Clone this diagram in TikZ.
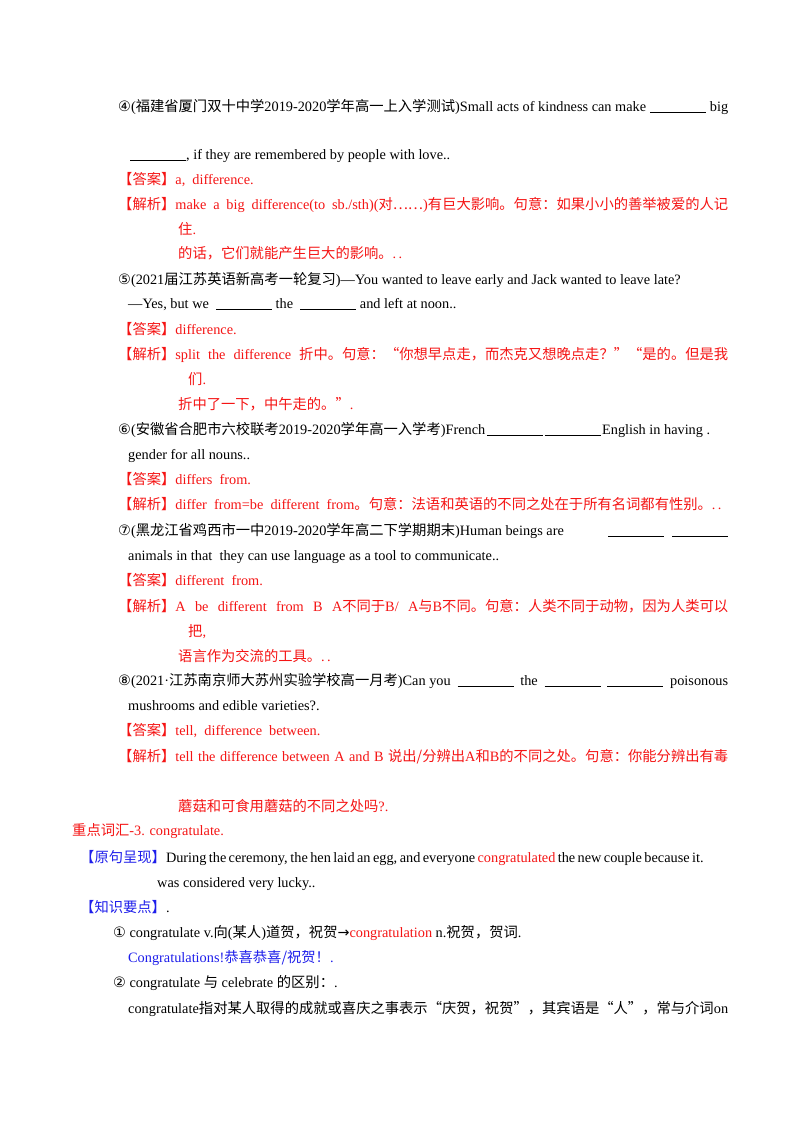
\documentclass[tikz,border=0pt]{standalone}
\usepackage{fontspec}
\setmainfont{Liberation Serif}
\newfontfamily\cjk{Noto Sans CJK SC}
\newfontfamily\sym{DejaVu Sans}
\newcommand\Cj[1]{{\cjk #1}}
\newcommand\Sy[1]{{\sym #1}}
\definecolor{ansred}{RGB}{245,20,20}
\definecolor{kblue}{RGB}{30,30,235}
\tikzset{txt/.style={anchor=base west,inner sep=0pt,font=\fontsize{14.3}{17}\selectfont}}
\newcommand\Tx[3]{\node[txt] at (#1,#2) {#3};}
\newcommand\Jx[4]{\node[txt] at (#1,#2) {\hbox to #3pt{#4}};}
\newcommand\blank{\underline{\hspace{56pt}}}
\begin{document}
\begin{tikzpicture}[x=1pt,y=-1pt]
\useasboundingbox[fill=white] (0,0) rectangle (800,1132);
\Jx{118}{111}{610}{\Sy{④}(\Cj{福建省厦门双十中学}2019-2020\Cj{学年高一上入学测试})Small acts of kindness can make\hfill \blank\ big}
\Tx{130}{159}{\blank, if they are remembered by people with love..}
\Tx{118}{184}{\color{ansred}\Cj{【答案】}a,\ \ difference.}
\Jx{118}{209}{610}{\color{ansred}\Cj{【解析】}make\hfill a\hfill big\hfill difference(to\hfill sb./sth)(\Cj{对……})\Cj{有巨大影响。句意：如果小小的善举被爱的人记}}
\Tx{178}{234}{\color{ansred}\Cj{住}.}
\Tx{178}{258}{\color{ansred}\Cj{的话，它们就能产生巨大的影响。}.\,.}
\Tx{118}{284}{\Sy{⑤}(2021\Cj{届江苏英语新高考一轮复习})—You wanted to leave early and Jack wanted to leave late?}
\Tx{128}{308}{—Yes, but we \ \blank \ the \ \blank \ and left at noon..}
\Tx{118}{334}{\color{ansred}\Cj{【答案】}difference.}
\Jx{118}{359}{610}{\color{ansred}\Cj{【解析】}split\hfill the\hfill difference\hfill\Cj{折中。句意：“你想早点走，而杰克又想晚点走？”“是的。但是我}}
\Tx{188}{384}{\color{ansred}\Cj{们}.}
\Tx{178}{409}{\color{ansred}\Cj{折中了一下，中午走的。”}.}
\Jx{118}{434}{592}{\Sy{⑥}(\Cj{安徽省合肥市六校联考}2019-2020\Cj{学年高一入学考})French\hfill\blank\hfill\blank\hfill English in having .}
\Tx{128}{459}{gender for all nouns..}
\Tx{118}{484}{\color{ansred}\Cj{【答案】}differs\ \ from.}
\Tx{118}{509}{\color{ansred}\Cj{【解析】}differ\ \ from=be\ \ different\ \ from\Cj{。句意：法语和英语的不同之处在于所有名词都有性别。}.\,.}
\Jx{118}{535}{610}{\Sy{⑦}(\Cj{黑龙江省鸡西市一中}2019-2020\Cj{学年高二下学期期末})Human beings are\hfill\blank\hspace{8pt}\blank}
\Tx{128}{560}{animals in that \ they can use language as a tool to communicate..}
\Tx{118}{585}{\color{ansred}\Cj{【答案】}different\ \ from.}
\Jx{118}{611}{610}{\color{ansred}\Cj{【解析】}A\hfill be\hfill different\hfill from\hfill B\hfill A\Cj{不同于}B/\hfill A\Cj{与}B\Cj{不同。句意：人类不同于动物，因为人类可以}}
\Tx{188}{636}{\color{ansred}\Cj{把},}
\Tx{178}{661}{\color{ansred}\Cj{语言作为交流的工具。}.\,.}
\Jx{118}{685}{610}{\Sy{⑧}(2021·\Cj{江苏南京师大苏州实验学校高一月考})Can you\hfill\blank\hfill the\hfill\blank\hfill\blank\hfill poisonous}
\Tx{128}{710}{mushrooms and edible varieties?.}
\Tx{118}{735}{\color{ansred}\Cj{【答案】}tell,\ \ difference\ \ between.}
\Jx{118}{761}{610}{\color{ansred}\Cj{【解析】}tell the difference between A and B\ \Cj{说出/分辨出}A\Cj{和}B\Cj{的不同之处。句意：你能分辨出有毒}}
\Tx{178}{811}{\color{ansred}\Cj{蘑菇和可食用蘑菇的不同之处吗}?.}
\Tx{72}{835}{\color{ansred}\Cj{重点词汇}-3. congratulate.}
\Jx{80}{862}{620}{\color{kblue}\Cj{【原句呈现】}\color{black}During the ceremony, the hen laid an egg, and everyone \textcolor{ansred}{congratulated} the new couple because it\hfill .}
\Tx{157}{887}{was considered very lucky..}
\Tx{80}{912}{\color{kblue}\Cj{【知识要点】}\color{black}.}
\Tx{113}{937}{\Sy{①} congratulate v.\Cj{向}(\Cj{某人})\Cj{道贺，祝贺}\Sy{→}\textcolor{ansred}{congratulation} n.\Cj{祝贺，贺词}.}
\Tx{128}{962}{\color{kblue}Congratulations!\Cj{恭喜恭喜/祝贺！}.}
\Tx{113}{987}{\Sy{②} congratulate \Cj{与} celebrate \Cj{的区别：}.}
\Jx{128}{1013}{600}{congratulate\hfill\Cj{指对某人取得的成就或喜庆之事表示“庆贺，祝贺”，其宾语是“人”，常与介词}\hfill on}
\end{tikzpicture}
\end{document}
